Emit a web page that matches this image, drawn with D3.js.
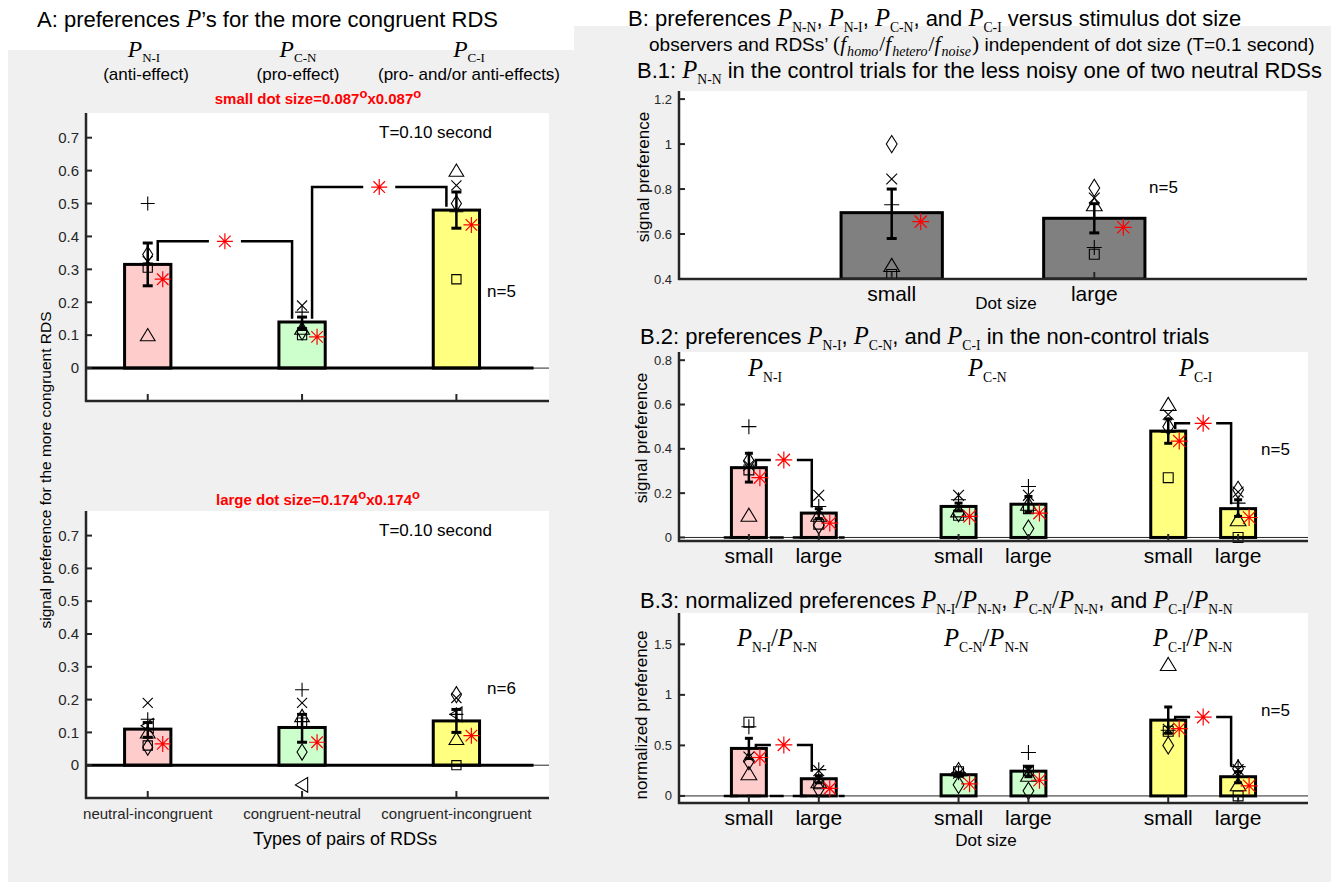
<!DOCTYPE html>
<html><head><meta charset="utf-8">
<script src="https://cdn.jsdelivr.net/npm/d3@7"></script>
<style>
body{margin:0;background:#fff}
text{font-family:"Liberation Sans",Arial,Helvetica,sans-serif}
</style>
</head><body>
<svg id="c" width="1331" height="882"></svg>
<script>
// ---------------- DATA ----------------
// marker order for individual observers
const observerMarkers = ["plus","cross","diamond","square","triUp","triLeft"];
const pairTypes = ["neutral-incongruent","congruent-neutral","congruent-incongruent"];
const pairColors = ["#ffcccc","#ccffcc","#ffff80"];

// Panel A (top): small dot size, n=5
const aSmallMean  = [0.315, 0.14, 0.48];
const aSmallErrLo = [0.25, 0.12, 0.425];
const aSmallErrHi = [0.38, 0.155, 0.535];
const aSmallObs   = [[0.50,0.325,0.345,0.305,0.10],[0.17,0.19,0.11,0.10,0.12],[0.475,0.555,0.50,0.27,0.60]];
const aSmallModel = [0.27, 0.095, 0.435];
const aBracketFrom = [1, 2];
const aBracketTo   = [2, 3];
const aBracketLevel= [0.385, 0.55];
const aBracketLeftEnd  = [0.325, 0.15];
const aBracketRightEnd = [0.15, 0.49];

// Panel A (bottom): large dot size, n=6
const aLargeMean  = [0.11, 0.115, 0.135];
const aLargeErrLo = [0.085, 0.07, 0.10];
const aLargeErrHi = [0.13, 0.155, 0.17];
const aLargeObs   = [[0.14,0.19,0.055,0.06,0.10,0.12],[0.23,0.19,0.04,0.13,0.15,-0.06],[0.155,0.205,0.215,0.0,0.08,0.155]];
const aLargeModel = [0.065, 0.07, 0.09];
const aYTicks = [0,0.1,0.2,0.3,0.4,0.5,0.6,0.7];

// Panel B.1: P_N-N
const sizeLabels = ["small","large"];
const b1Mean  = [0.695, 0.67];
const b1ErrLo = [0.58, 0.605];
const b1ErrHi = [0.80, 0.735];
const b1Obs   = [[0.73,0.845,1.0,0.42,0.46],[0.54,0.76,0.805,0.51,0.73]];
const b1Model = [0.655, 0.63];
const b1YTicks = [0.4,0.6,0.8,1,1.2];

// Panel B.2: P_N-I, P_C-N, P_C-I (small, large)
const bPositions = [1,2,4,5,7,8];
const bColorIdx  = [0,0,1,1,2,2];
const b2Mean  = [0.315, 0.11, 0.14, 0.15, 0.48, 0.13];
const b2ErrLo = [0.25, 0.085, 0.12, 0.115, 0.425, 0.095];
const b2ErrHi = [0.38, 0.13, 0.155, 0.185, 0.535, 0.17];
const b2Obs   = [[0.50,0.325,0.345,0.305,0.10],[0.14,0.19,0.055,0.06,0.10],[0.17,0.19,0.11,0.10,0.12],
                 [0.23,0.19,0.04,0.13,0.15],[0.475,0.555,0.50,0.27,0.60],[0.155,0.205,0.215,0.0,0.08]];
const b2Model = [0.27, 0.065, 0.095, 0.11, 0.435, 0.09];
const b2BracketLevel = [0.35, 0.515];
const b2BracketLeftEnd = [0.32, 0.49];
const b2BracketRightEnd = [0.135, 0.15];
const b2YTicks = [0,0.2,0.4,0.6,0.8];

// Panel B.3: normalized preferences
const b3Mean  = [0.47, 0.17, 0.21, 0.245, 0.75, 0.19];
const b3ErrLo = [0.37, 0.13, 0.195, 0.19, 0.62, 0.13];
const b3ErrHi = [0.57, 0.20, 0.23, 0.29, 0.88, 0.24];
const b3Obs   = [[0.685,0.385,0.345,0.73,0.22],[0.26,0.25,0.07,0.12,0.14],[0.23,0.225,0.11,0.24,0.26],
                 [0.43,0.25,0.05,0.255,0.205],[0.65,0.66,0.50,0.64,1.30],[0.29,0.26,0.27,0.0,0.11]];
const b3Model = [0.38, 0.075, 0.12, 0.155, 0.665, 0.10];
const b3BracketLevel = [0.505, 0.78];
const b3BracketLeftEnd = [0.47, 0.75];
const b3BracketRightEnd = [0.24, 0.29];
const b3YTicks = [0,0.5,1,1.5];

// ---------------- DRAWING ----------------
const svg = d3.select("#c");
svg.append("rect").attr("width",1331).attr("height",882).attr("fill","#fff");
svg.append("rect").attr("x",8).attr("y",50).attr("width",570).attr("height",832).attr("fill","#f0f0f0");
svg.append("rect").attr("x",574).attr("y",26).attr("width",757).attr("height",856).attr("fill","#f0f0f0");
const plotLayer = svg.append("g");
const textLayer = svg.append("g");

const SERIF = "Liberation Serif, Times New Roman, serif";
function rich(g, x, y, segs, size, anchor, fill){
  const t = g.append("text").attr("x",x).attr("y",y).attr("font-size",size)
    .attr("text-anchor",anchor||"start").attr("fill",fill||"#000");
  let cur = 0;
  segs.forEach(s=>{
    const sp = t.append("tspan").text(s.t);
    let off = 0;
    if (s.f==="it"){ sp.attr("font-family",SERIF).attr("font-style","italic").attr("font-size",size*1.12); }
    if (s.f==="sub"){ off = size*0.25; sp.attr("font-family",SERIF).attr("font-size",size*0.62); }
    if (s.f==="itsub"){ off = size*0.25; sp.attr("font-family",SERIF).attr("font-style","italic").attr("font-size",size*0.74); }
    if (s.f==="serif"){ sp.attr("font-family",SERIF).attr("font-size",size*1.12); }
    if (s.dx) sp.attr("dx",s.dx);
    if (off!==cur){ sp.attr("dy", off-cur); cur = off; }
  });
  return t;
}
function P(sub){ return [{t:"P",f:"it"},{t:sub,f:"sub"}]; }

function markerPath(type, s){
  const h = s/2;
  switch(type){
    case "plus": return `M${-h},0H${h}M0,${-h}V${h}`;
    case "cross": {const c=h*0.72; return `M${-c},${-c}L${c},${c}M${-c},${c}L${c},${-c}`;}
    case "diamond": return `M0,${-h*1.15}L${h*0.72},0L0,${h*1.15}L${-h*0.72},0Z`;
    case "square": {const c=h*0.66; return `M${-c},${-c}H${c}V${c}H${-c}Z`;}
    case "triUp": return `M0,${-h*0.95}L${h*1.05},${h*0.8}L${-h*1.05},${h*0.8}Z`;
    case "triLeft": return `M${-h*0.95},0L${h*0.8},${-h*1.05}L${h*0.8},${h*1.05}Z`;
    case "star": {const c=h*0.72; return `M${-h},0H${h}M0,${-h}V${h}M${-c},${-c}L${c},${c}M${-c},${c}L${c},${-c}`;}
  }
}

function panel(o){
  const g = plotLayer.append("g");
  const x = d3.scaleLinear().domain(o.xDomain).range([o.x0,o.x1]);
  const y = d3.scaleLinear().domain(o.yDomain).range([o.y1,o.y0]);
  const id = "clip"+Math.round(o.y0);
  g.append("clipPath").attr("id",id).append("rect").attr("x",o.x0).attr("y",o.y0)
    .attr("width",o.x1-o.x0).attr("height",o.y1-o.y0);
  g.append("rect").attr("x",o.x0).attr("y",o.y0).attr("width",o.x1-o.x0).attr("height",o.y1-o.y0).attr("fill","#fff");
  const cg = g.append("g").attr("clip-path",`url(#${id})`);
  if (o.zeroLine){
    cg.append("line").attr("x1",o.x0).attr("x2",o.x1).attr("y1",y(0)).attr("y2",y(0))
      .attr("stroke","#262626").attr("stroke-width",1);
  }
  const bw = o.barWidth;
  cg.selectAll(".bar").data(o.means).join("rect")
    .attr("x",(d,i)=>x(o.pos[i]-bw/2)).attr("width",x(bw)-x(0))
    .attr("y",d=>y(d)).attr("height",d=>y(o.base)-y(d))
    .attr("fill",(d,i)=>o.colors[i]).attr("stroke","#000").attr("stroke-width",3);
  if (o.thickZero){
    cg.append("line").attr("x1",x(o.thickZero[0])).attr("x2",x(o.thickZero[1])).attr("y1",y(0)).attr("y2",y(0))
      .attr("stroke","#000").attr("stroke-width",3);
  }
  if (o.dashZero){
    cg.append("line").attr("x1",x(o.dashZero[0])).attr("x2",x(o.dashZero[1])).attr("y1",y(0)).attr("y2",y(0))
      .attr("stroke","#000").attr("stroke-width",2.5).attr("stroke-dasharray","14,9");
  }
  const cap = o.cap;
  o.means.forEach((m,i)=>{
    const cx = x(o.pos[i]);
    g.append("line").attr("x1",cx).attr("x2",cx).attr("y1",y(o.lo[i])).attr("y2",y(o.hi[i])).attr("stroke","#000").attr("stroke-width",2.5);
    [o.lo[i],o.hi[i]].forEach(v=>g.append("line").attr("x1",cx-cap).attr("x2",cx+cap).attr("y1",y(v)).attr("y2",y(v)).attr("stroke","#000").attr("stroke-width",3));
  });
  o.obs.forEach((arr,i)=>{
    arr.forEach((v,k)=>{
      g.append("path").attr("d",markerPath(observerMarkers[k],o.msize))
        .attr("transform",`translate(${x(o.pos[i])},${y(v)})`)
        .attr("fill","none").attr("stroke","#000").attr("stroke-width",1.1);
    });
  });
  if (o.brackets){
    o.brackets.forEach(b=>{
      const xl = x(b.from)+b.inset, xr = x(b.to)-b.inset, yl = y(b.level);
      const mid = (xl+xr)/2, gap = b.gap;
      g.append("path").attr("d",`M${xl},${y(b.left)}V${yl}H${mid-gap}M${mid+gap},${yl}H${xr}V${y(b.right)}`)
        .attr("fill","none").attr("stroke","#000").attr("stroke-width",2.5);
      g.append("path").attr("d",markerPath("star",o.msize+2)).attr("transform",`translate(${mid},${yl})`)
        .attr("fill","none").attr("stroke","#ff0000").attr("stroke-width",1.2);
    });
  }
  o.model.forEach((v,i)=>{
    g.append("path").attr("d",markerPath("star",o.msize+2))
      .attr("transform",`translate(${x(o.pos[i])+o.modelOff},${y(v)})`)
      .attr("fill","none").attr("stroke","#ff0000").attr("stroke-width",1.2);
  });
  g.append("line").attr("x1",o.x0).attr("x2",o.x0).attr("y1",o.y0).attr("y2",o.y1+1).attr("stroke","#262626").attr("stroke-width",2.5);
  g.append("line").attr("x1",o.x0-1).attr("x2",o.x1).attr("y1",o.y1).attr("y2",o.y1).attr("stroke","#262626").attr("stroke-width",2.5);
  o.yTicks.forEach(t=>{
    g.append("line").attr("x1",o.x0).attr("x2",o.x0+6).attr("y1",y(t)).attr("y2",y(t)).attr("stroke","#262626").attr("stroke-width",2);
    g.append("text").attr("x",o.x0-7).attr("y",y(t)).attr("dy","0.35em").attr("text-anchor","end")
      .attr("font-size",o.tickFont).attr("fill","#262626").text(d3.format("")(t));
  });
  o.pos.forEach(p=>{
    g.append("line").attr("x1",x(p)).attr("x2",x(p)).attr("y1",o.y1).attr("y2",o.y1-7).attr("stroke","#262626").attr("stroke-width",2);
  });
  if (o.xLabels){
    o.xLabels.forEach((l,i)=>{
      g.append("text").attr("x",x(o.pos[i])).attr("y",o.xLabelY).attr("text-anchor","middle")
        .attr("font-size",o.xLabelFont).attr("fill",o.xLabelColor||"#000").text(l);
    });
  }
  return {g,x,y};
}

// ---------- Panel A ----------
rich(textLayer,37,27,[{t:"A: preferences "},{t:"P",f:"it"},{t:"’s for the more congruent RDS"}],22);
[[144,"N-I","(anti-effect)",146],[298,"C-N","(pro-effect)",298],[469,"C-I","(pro- and/or anti-effects)",469]].forEach(h=>{
  rich(textLayer,h[0],57,P(h[1]),21,"middle");
  textLayer.append("text").attr("x",h[3]).attr("y",80).attr("text-anchor","middle").attr("font-size",17).text(h[2]);
});
function dotTitle(x,y,label,val){
  const t = textLayer.append("text").attr("x",x).attr("y",y).attr("text-anchor","middle").attr("font-size",15)
    .attr("font-weight","bold").attr("fill","#ff0000");
  t.append("tspan").text(label+"="+val);
  t.append("tspan").attr("dy",-6).attr("font-size",13).text("o");
  t.append("tspan").attr("dy",6).text("x"+val);
  t.append("tspan").attr("dy",-6).attr("font-size",13).text("o");
}
dotTitle(318,104,"small dot size","0.087");
dotTitle(318,505,"large dot size","0.174");

const aCommon = {x0:86,x1:549,xDomain:[0.6,3.6],yDomain:[-0.1,0.775],pos:[1,2,3],barWidth:0.3,base:0,
  colors:pairColors,cap:5,msize:14,modelOff:15,yTicks:aYTicks,tickFont:15,zeroLine:true,thickZero:[0.5,3.5]};
panel(Object.assign({},aCommon,{y0:113,y1:401,means:aSmallMean,lo:aSmallErrLo,hi:aSmallErrHi,
  obs:aSmallObs,model:aSmallModel,
  brackets:aBracketFrom.map((f,i)=>({from:f,to:aBracketTo[i],level:aBracketLevel[i],left:aBracketLeftEnd[i],right:aBracketRightEnd[i],inset:10,gap:16}))}));
panel(Object.assign({},aCommon,{y0:511,y1:798,means:aLargeMean,lo:aLargeErrLo,hi:aLargeErrHi,
  obs:aLargeObs,model:aLargeModel,xLabels:pairTypes,xLabelY:819,xLabelFont:15,xLabelColor:"#262626"}));
[[138,"T=0.10 second"],[536,"T=0.10 second"]].forEach(d=>textLayer.append("text").attr("x",379).attr("y",d[0]).attr("font-size",17).text(d[1]));
textLayer.append("text").attr("x",487).attr("y",297).attr("font-size",17).text("n=5");
textLayer.append("text").attr("x",487).attr("y",694).attr("font-size",17).text("n=6");
textLayer.append("text").attr("x",345).attr("y",845).attr("text-anchor","middle").attr("font-size",18).text("Types of pairs of RDSs");
textLayer.append("text").attr("transform","translate(51,470) rotate(-90)").attr("text-anchor","middle").attr("font-size",15.5)
  .text("signal preference for the more congruent RDS");

// ---------- Panel B ----------
rich(textLayer,628,26,[{t:"B: preferences "},...P("N-N"),{t:", "},...P("N-I"),{t:", "},...P("C-N"),{t:", and "},...P("C-I"),{t:" versus stimulus dot size"}],22);
rich(textLayer,649,51,[{t:"observers and RDSs’ "},{t:"(",f:"serif"},{t:"f",f:"it"},{t:"homo",f:"itsub",dx:1},{t:"/",f:"serif",dx:1},{t:"f",f:"it"},{t:"hetero",f:"itsub",dx:1},{t:"/",f:"serif",dx:1},{t:"f",f:"it"},{t:"noise",f:"itsub",dx:1},{t:")",f:"serif",dx:1},{t:" independent of dot size (T=0.1 second)"}],19);
rich(textLayer,637,78,[{t:"B.1: "},...P("N-N"),{t:" in the control trials for the less noisy one of two neutral RDSs"}],22);

panel({x0:679,x1:1307,y0:91,y1:279,xDomain:[-0.05,3.05],yDomain:[0.4,1.236],pos:[1,2],barWidth:0.5,base:0.4,
  colors:["#808080","#808080"],means:b1Mean,lo:b1ErrLo,hi:b1ErrHi,obs:b1Obs,model:b1Model,cap:5,msize:15,modelOff:29,
  yTicks:b1YTicks,tickFont:13,xLabels:sizeLabels,xLabelY:301,xLabelFont:21});
textLayer.append("text").attr("x",1149).attr("y",193).attr("font-size",17).text("n=5");
textLayer.append("text").attr("x",1006).attr("y",309).attr("text-anchor","middle").attr("font-size",17).text("Dot size");
textLayer.append("text").attr("transform","translate(649,177) rotate(-90)").attr("text-anchor","middle").attr("font-size",17).text("signal preference");

rich(textLayer,640,344,[{t:"B.2: preferences "},...P("N-I"),{t:", "},...P("C-N"),{t:", and "},...P("C-I"),{t:" in the non-control trials"}],22);
const bColors = bColorIdx.map(i=>pairColors[i]);
const sixLabels = bPositions.map((p,i)=>sizeLabels[i%2]);
panel({x0:679,x1:1308,y0:352,y1:541,xDomain:[0,9],yDomain:[-0.016,0.837],pos:bPositions,barWidth:0.5,base:0,
  colors:bColors,means:b2Mean,lo:b2ErrLo,hi:b2ErrHi,obs:b2Obs,model:b2Model,cap:4,msize:15,modelOff:11,
  yTicks:b2YTicks,tickFont:13,zeroLine:true,dashZero:[0.64,2.37],xLabels:sixLabels,xLabelY:563,xLabelFont:21,
  brackets:[0,1].map(i=>({from:[1,7][i],to:[2,8][i],level:b2BracketLevel[i],left:b2BracketLeftEnd[i],right:b2BracketRightEnd[i],inset:7,gap:13}))});
rich(textLayer,748,376,P("N-I"),22);
rich(textLayer,968,376,P("C-N"),22);
rich(textLayer,1179,376,P("C-I"),22);
textLayer.append("text").attr("x",1261).attr("y",455).attr("font-size",17).text("n=5");
textLayer.append("text").attr("transform","translate(647,438) rotate(-90)").attr("text-anchor","middle").attr("font-size",17).text("signal preference");

rich(textLayer,640,608,[{t:"B.3: normalized preferences "},...P("N-I"),{t:"/",f:"serif"},...P("N-N"),{t:", "},...P("C-N"),{t:"/",f:"serif"},...P("N-N"),{t:", and "},...P("C-I"),{t:"/",f:"serif"},...P("N-N")],22);
panel({x0:679,x1:1308,y0:613,y1:803,xDomain:[0,9],yDomain:[-0.07,1.81],pos:bPositions,barWidth:0.5,base:0,
  colors:bColors,means:b3Mean,lo:b3ErrLo,hi:b3ErrHi,obs:b3Obs,model:b3Model,cap:4,msize:15,modelOff:11,
  yTicks:b3YTicks,tickFont:13,zeroLine:true,dashZero:[0.64,2.37],xLabels:sixLabels,xLabelY:825,xLabelFont:21,
  brackets:[0,1].map(i=>({from:[1,7][i],to:[2,8][i],level:b3BracketLevel[i],left:b3BracketLeftEnd[i],right:b3BracketRightEnd[i],inset:7,gap:13}))});
rich(textLayer,737,646,[...P("N-I"),{t:"/",f:"serif"},...P("N-N")],22);
rich(textLayer,944,646,[...P("C-N"),{t:"/",f:"serif"},...P("N-N")],22);
rich(textLayer,1153,646,[...P("C-I"),{t:"/",f:"serif"},...P("N-N")],22);
textLayer.append("text").attr("x",1261).attr("y",716).attr("font-size",17).text("n=5");
textLayer.append("text").attr("x",986).attr("y",846).attr("text-anchor","middle").attr("font-size",17).text("Dot size");
textLayer.append("text").attr("transform","translate(647,715) rotate(-90)").attr("text-anchor","middle").attr("font-size",17).text("normalized preference");
</script>
</body></html>
